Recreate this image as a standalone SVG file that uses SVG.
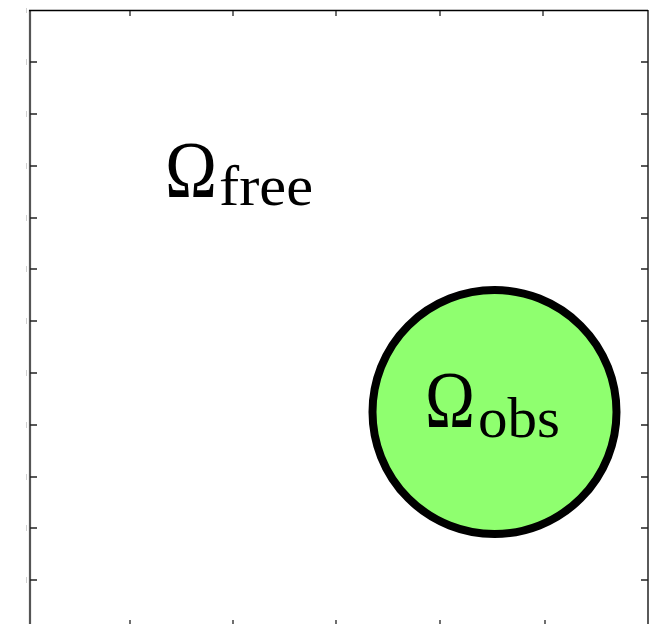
<svg xmlns="http://www.w3.org/2000/svg" width="660" height="624" viewBox="0 0 660 624">
<style>
.tick{stroke:#222;stroke-width:1.3;fill:none}
.faint{stroke:#d0d0d0;stroke-width:1;fill:none}
.lbl{font-family:"Liberation Serif","DejaVu Serif",serif;fill:#000}
</style>
<rect x="0" y="0" width="660" height="624" fill="#fff"/>
<g id="frame">
<line x1="30" y1="10" x2="30" y2="630" stroke="#555" stroke-width="2.2"/>
<line x1="29" y1="10.5" x2="648" y2="10.5" stroke="#000" stroke-width="1.3"/>
<line x1="648" y1="10" x2="648" y2="630" stroke="#000" stroke-width="1.3"/>
<g class="tick">
<path d="M30 62h7M30 114h7M30 166h7M30 218h7M30 269h7M30 321h7M30 373h7M30 425h7M30 477h7M30 528h7M30 580h7"/>
<path d="M648 62h-7M648 114h-7M648 166h-7M648 218h-7M648 269h-7M648 321h-7M648 373h-7M648 425h-7M648 477h-7M648 528h-7M648 580h-7"/>
<path d="M130 11v5M233 11v5M336 11v5M440 11v5M543 11v5"/>
<path d="M130 624v-4M233 624v-4M336 624v-4M440 624v-4M545 624v-4"/>
</g>
<g class="faint">
<path d="M26.5 8v5M26.5 59v6M26.5 111v6M26.5 163v6M26.5 215v6M26.5 266v6M26.5 318v6M26.5 370v6M26.5 422v6M26.5 474v6M26.5 525v6M26.5 577v6"/>
</g>
</g>
<g id="free">
<text class="lbl" x="165" y="197" font-size="80" textLength="52" lengthAdjust="spacingAndGlyphs">Ω</text>
<text class="lbl" x="219" y="205" font-size="58" textLength="94" lengthAdjust="spacingAndGlyphs">free</text>
</g>
<g id="obs">
<circle cx="494.5" cy="412" r="122" fill="#8fff6f" stroke="#000" stroke-width="8"/>
<text class="lbl" x="425" y="427" font-size="80" textLength="50" lengthAdjust="spacingAndGlyphs">Ω</text>
<text class="lbl" x="478" y="437" font-size="58" textLength="82" lengthAdjust="spacingAndGlyphs">obs</text>
</g>
</svg>
